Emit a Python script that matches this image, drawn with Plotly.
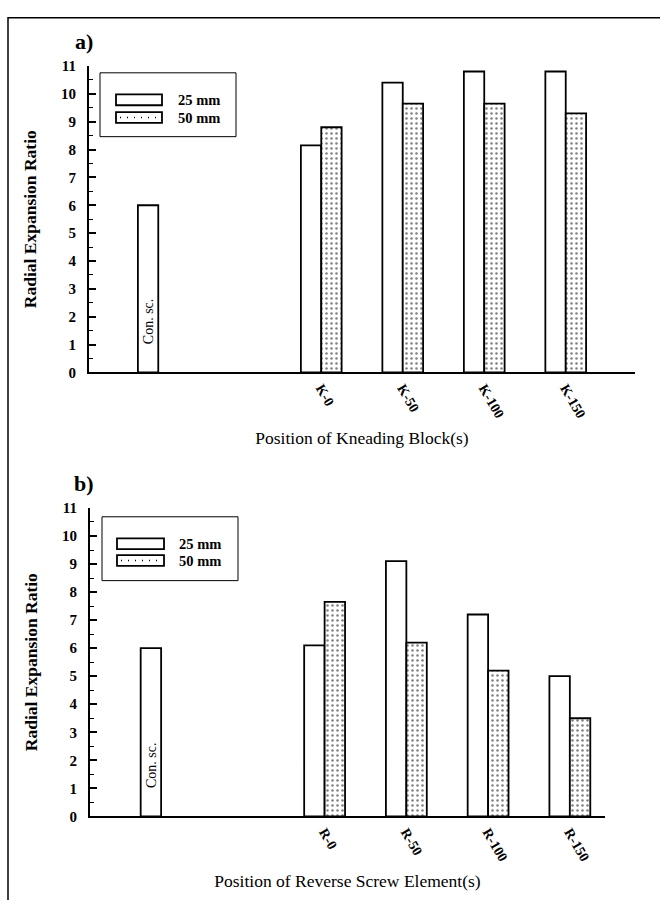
import plotly.graph_objects as go

W, H = 660, 900

# ---------------- data ----------------
positions = [0, 2, 3, 4, 5]
tick_positions = [2, 3, 4, 5]
labels_a = ["K-0", "K-50", "K-100", "K-150"]
labels_b = ["R-0", "R-50", "R-100", "R-150"]
a_25mm = [6.0, 8.15, 10.4, 10.8, 10.8]
a_50mm = [None, 8.8, 9.65, 9.65, 9.3]
b_25mm = [6.0, 6.1, 9.1, 7.2, 5.0]
b_50mm = [None, 7.65, 6.2, 5.2, 3.5]
series_names = ["25 mm", "50 mm"]
y_ticks = list(range(0, 12))

SERIF = "Liberation Serif, Times New Roman, serif"


def px(x):
    return x / W


def py(y):
    return 1 - y / H


fig = go.Figure()

line_style = dict(color="black", width=1.8)
plain = dict(color="white", line=line_style)
dotted = dict(color="white", line=line_style,
              pattern=dict(shape=".", fgcolor="black", bgcolor="white",
                           size=5, solidity=0.2))

for xa, ya, v25, v50 in [("x", "y", a_25mm, a_50mm), ("x2", "y2", b_25mm, b_50mm)]:
    fig.add_trace(go.Bar(x=positions, y=v25, name=series_names[0], marker=plain,
                         xaxis=xa, yaxis=ya, showlegend=False))
    fig.add_trace(go.Bar(x=positions, y=v50, name=series_names[1], marker=dotted,
                         xaxis=xa, yaxis=ya, showlegend=False))

yaxis_common = dict(
    range=[0, 11], tickvals=y_ticks, ticks="inside", ticklen=7, tickwidth=1.5,
    tickcolor="black", showline=True, linecolor="black", linewidth=2,
    showgrid=False, zeroline=False, ticklabelstandoff=8,
    minor=dict(dtick=0.5, ticks="inside", ticklen=4, tickwidth=1, tickcolor="black"),
    tickfont=dict(family=SERIF, size=15, color="black", weight="bold"),
    title=dict(text="Radial Expansion Ratio", standoff=20,
               font=dict(family=SERIF, size=17.5, color="black", weight="bold")),
)
xaxis_common = dict(
    showline=True, linecolor="black", linewidth=2, ticks="", showgrid=False,
    zeroline=False, tickvals=tick_positions, tickangle=60,
    tickfont=dict(family=SERIF, size=14, color="black", weight="bold"),
)

fig.update_layout(
    width=W, height=H, margin=dict(l=0, r=0, t=0, b=0),
    paper_bgcolor="white", plot_bgcolor="white",
    barmode="group", bargap=0.5, bargroupgap=0,
    showlegend=False,
    font=dict(family=SERIF, color="black"),
    xaxis=dict(xaxis_common, domain=[px(89), px(635)], range=[-0.85, 5.85],
               ticktext=labels_a, anchor="y",
               title=dict(text="Position of Kneading Block(s)", standoff=12,
                          font=dict(family=SERIF, size=17.5, color="black"))),
    yaxis=dict(yaxis_common, domain=[py(371), py(59)], anchor="x"),
    xaxis2=dict(xaxis_common, domain=[px(90), px(605)], range=[-0.87, 5.43],
                ticktext=labels_b, anchor="y2",
                title=dict(text="Position of Reverse Screw Element(s)", standoff=12,
                           font=dict(family=SERIF, size=17.5, color="black"))),
    yaxis2=dict(yaxis_common, domain=[py(823), py(509)], anchor="x2"),
)

shapes = []
annotations = []

# outer frame (left and top edges visible)
shapes.append(dict(type="rect", xref="paper", yref="paper",
                   x0=px(8), x1=1.02, y0=-0.02, y1=py(10),
                   line=dict(color="black", width=1.5), fillcolor="rgba(0,0,0,0)"))

# panel letters
for letter, yc in [("a)", 34), ("b)", 484)]:
    annotations.append(dict(text="<b>" + letter + "</b>", x=px(84), y=py(yc),
                            xref="paper", yref="paper", xanchor="center", yanchor="middle",
                            showarrow=False, font=dict(family=SERIF, size=22, color="black")))


def legend(box, sw_x, sw_y25, sw_y50, text_x):
    x0, y0, x1, y1 = box
    shapes.append(dict(type="rect", xref="paper", yref="paper",
                       x0=px(x0), x1=px(x1), y0=py(y1), y1=py(y0),
                       line=dict(color="black", width=1), fillcolor="white"))
    for (ya, yb), name in zip([sw_y25, sw_y50], series_names):
        shapes.append(dict(type="rect", xref="paper", yref="paper",
                           x0=px(sw_x[0]), x1=px(sw_x[1]), y0=py(yb), y1=py(ya),
                           line=dict(color="black", width=1.8), fillcolor="white"))
        annotations.append(dict(text="<b>" + name + "</b>", x=px(text_x), y=py((ya + yb) / 2),
                                xref="paper", yref="paper", xanchor="left", yanchor="middle",
                                showarrow=False,
                                font=dict(family=SERIF, size=14.5, color="black")))
    ya, yb = sw_y50
    shapes.append(dict(type="line", xref="paper", yref="paper",
                       x0=px(sw_x[0] + 4), x1=px(sw_x[1] - 2),
                       y0=py((ya + yb) / 2), y1=py((ya + yb) / 2),
                       line=dict(color="black", width=1.5, dash="1px,6px")))


legend((100, 66, 236, 131), (116, 162), (88, 99), (106, 117), 176)
legend((102, 518, 238, 583), (117, 164), (540, 551), (557, 568), 177)

# "Con. sc." labels inside the conventional screw bars
for xa, ya in [("x", "y"), ("x2", "y2")]:
    annotations.append(dict(text="Con. sc.", x=positions[0], y=0, xref=xa, yref=ya,
                            xshift=-9.5, yshift=51, textangle=-90, showarrow=False,
                            xanchor="center", yanchor="middle",
                            font=dict(family=SERIF, size=14, color="black")))

fig.update_layout(shapes=shapes, annotations=annotations)

fig.write_html("out.html")
